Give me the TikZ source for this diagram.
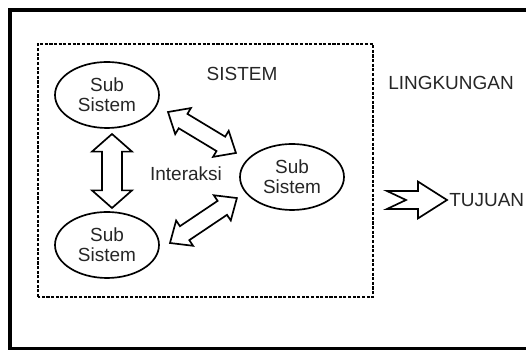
\documentclass[tikz,border=0pt]{standalone}
\usepackage{fontspec}
\setmainfont{Liberation Sans}
\usetikzlibrary{shapes.geometric,calc}

\begin{document}
\begin{tikzpicture}[font=\fontsize{13.5}{14}\selectfont,
  subsys/.style={draw, ellipse, line width=1.2pt, minimum width=2.6cm,
    minimum height=1.65cm, inner sep=0pt, align=center, text=black!85},
  biarrow/.style={draw, line width=1.2pt, fill=white, line join=miter}]
  \useasboundingbox (0,0) rectangle (13.15,8.75);
  \clip (0,0) rectangle (13.15,8.75);
  % outer frame, cut off at the right and bottom
  \draw[line width=2.8pt] (0.24,0.02) rectangle (14,8.51);
  % system boundary
  \draw[line width=1.6pt, dash pattern=on 2.2pt off 1.1pt] (0.95,1.325) rectangle (9.325,7.65);

  \node[subsys] (sub1) at (2.675,6.375) {Sub\\Sistem};
  \node[subsys] (sub2) at (2.675,2.625) {Sub\\Sistem};
  \node[subsys] (sub3) at (7.3,4.325) {Sub\\Sistem};

  \node[text=black!85] (sistem) at (6.05,6.9) {SISTEM};
  \node[text=black!85] (lingkungan) at (11.275,6.675) {LINGKUNGAN};
  \node[text=black!85] (interaksi) at (4.65,4.41) {Interaksi};
  \node[text=black!85, anchor=west, inner sep=0pt] (tujuan) at (11.225,3.75) {TUJUAN};

  % interaction arrows between the subsystems
  \coordinate (a1) at (2.8,5.4);     \coordinate (b1) at (2.8,3.55);
  \coordinate (a2) at (4.2,5.95);    \coordinate (b2) at (5.9,4.925);
  \coordinate (a3) at (4.25,2.675);  \coordinate (b3) at (5.925,3.8);
  \foreach \i/\hw/\sw in {1/0.5/0.25, 2/0.38/0.21, 3/0.38/0.21}
    \draw[biarrow] let \p1=($(b\i)-(a\i)$), \n1={veclen(\x1,\y1)},
      \n2={atan2(\y1,\x1)} in [shift={(a\i)}, rotate=\n2]
      (0,0) -- (0.44,\hw) -- (0.44,\sw) -- (\n1-0.44cm,\sw) -- (\n1-0.44cm,\hw)
      -- (\n1,0) -- (\n1-0.44cm,-\hw) -- (\n1-0.44cm,-\sw) -- (0.44,-\sw)
      -- (0.44,-\hw) -- cycle;

  % output arrow towards the goal
  \draw[biarrow] ($(tujuan.west)+(-0.05,0)$)
    -- ++(-0.725,0.46) -- ++(0,-0.235) -- ++(-0.775,0) -- ++(0.475,-0.225)
    -- ++(-0.475,-0.225) -- ++(0.775,0) -- ++(0,-0.235) -- cycle;
\end{tikzpicture}
\end{document}
